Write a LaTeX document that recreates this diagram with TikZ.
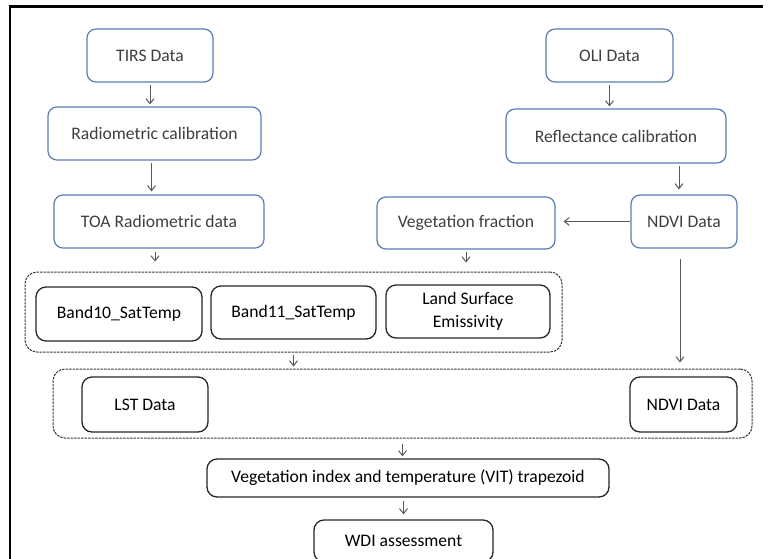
\documentclass[tikz,border=0pt]{standalone}
\usepackage{fontspec}
\setmainfont{Carlito}
\usetikzlibrary{arrows.meta}
\definecolor{boxblue}{HTML}{5B7DB1}
\definecolor{txtgray}{HTML}{3F3F3F}
\definecolor{arrgray}{HTML}{595959}
\definecolor{grpgray}{HTML}{383838}
\tikzset{
  blubox/.style={draw=boxblue, line width=1.2pt, rounded corners=9pt, fill=white,
    text=txtgray, inner sep=0pt, font=\fontsize{17.6pt}{23pt}\selectfont},
  blkbox/.style={draw=black!85, line width=1.3pt, rounded corners=10pt, fill=white,
    text=black, inner sep=0pt, align=center, font=\fontsize{17.6pt}{23pt}\selectfont},
  grpbox/.style={draw=grpgray, line width=1pt, dash pattern=on 2.5pt off 1pt,
    rounded corners=12pt, inner sep=0pt},
  arr/.style={draw=arrgray, line width=1pt, -{Straight Barb[length=5pt,width=8pt]},
    shorten <=2pt, shorten >=2pt}
}
\begin{document}
\begin{tikzpicture}[x=1pt,y=-1pt]
  \useasboundingbox (0,0) rectangle (772,558);
  % Outer frame (top and left only)
  \draw[line width=2.7pt] (10,560) -- (10,6.2) -- (763,6.2);
  % TIRS branch
  \node[blubox, minimum width=126pt, minimum height=53pt] (tirs) at (150,55.5) {TIRS Data};
  \node[blubox, minimum width=213pt, minimum height=53pt] (radio) at (154.5,133.5) {Radiometric calibration};
  \node[blubox, minimum width=210pt, minimum height=53pt] (toa) at (159,221.5) {TOA Radiometric data};
  % OLI branch
  \node[blubox, minimum width=127pt, minimum height=53pt] (oli) at (609.5,55.5) {OLI Data};
  \node[blubox, minimum width=220pt, minimum height=54pt] (refl) at (616,136) {Reflectance calibration};
  \node[blubox, minimum width=106pt, minimum height=53pt] (ndvi) at (684,221.5) {NDVI Data};
  \node[blubox, minimum width=178pt, minimum height=52pt] (veg) at (466,223) {Vegetation fraction};
  % Dashed groups
  \node[grpbox, minimum width=537pt, minimum height=80pt] (grpA) at (293.5,312) {};
  \node[grpbox, minimum width=699pt, minimum height=69pt] (grpB) at (402.5,403.5) {};
  % Intermediate products
  \node[blkbox, minimum width=166pt, minimum height=54pt] (band10) at (119,314) {Band10\_SatTemp};
  \node[blkbox, minimum width=165pt, minimum height=53pt] (band11) at (293.5,312.5) {Band11\_SatTemp};
  \node[blkbox, minimum width=164pt, minimum height=53pt] (lse) at (468,311.5) {Land Surface\\Emissivity};
  \node[blkbox, minimum width=126pt, minimum height=55pt] (lst) at (145,404.5) {LST Data};
  \node[blkbox, minimum width=107pt, minimum height=55pt] (ndviB) at (683.5,404.5) {NDVI Data};
  % Final steps
  \node[blkbox, minimum width=402pt, minimum height=38pt] (vit) at (408,478) {Vegetation index and temperature (VIT) trapezoid};
  \node[blkbox, minimum width=179pt, minimum height=42pt] (wdi) at (403.5,541) {WDI assessment};
  % Arrows
  \draw[arr] (tirs.south) -- (tirs.south |- radio.north);
  \draw[arr, shorten >=3pt] ([xshift=-3pt]radio.south) -- ([xshift=-3pt]radio.south |- toa.north);
  \draw[arr, shorten <=3pt, shorten >=10pt] ([xshift=-4pt]toa.south) -- ([xshift=-4pt]toa.south |- grpA.north);
  \draw[arr] (oli.south) -- (oli.south |- refl.north);
  \draw[arr, shorten >=5pt] ([xshift=-5pt]ndvi.north |- refl.south) -- ([xshift=-5pt]ndvi.north);
  \draw[arr, shorten <=0pt, shorten >=8pt] (ndvi.west) -- (ndvi.west -| veg.east);
  \draw[arr, shorten >=9pt] (veg.south) -- (veg.south |- grpA.north);
  \draw[arr, shorten <=10pt, shorten >=6pt] ([xshift=-4pt]ndvi.south) -- ([xshift=-4pt]ndvi.south |- grpB.north);
  \draw[arr] (grpA.south) -- (grpA.south |- grpB.north);
  \draw[arr, shorten <=5pt] (grpB.south) -- (grpB.south |- vit.north);
  \draw[arr, shorten <=3pt, shorten >=5pt] (wdi.north |- vit.south) -- (wdi.north);
\end{tikzpicture}
\end{document}
